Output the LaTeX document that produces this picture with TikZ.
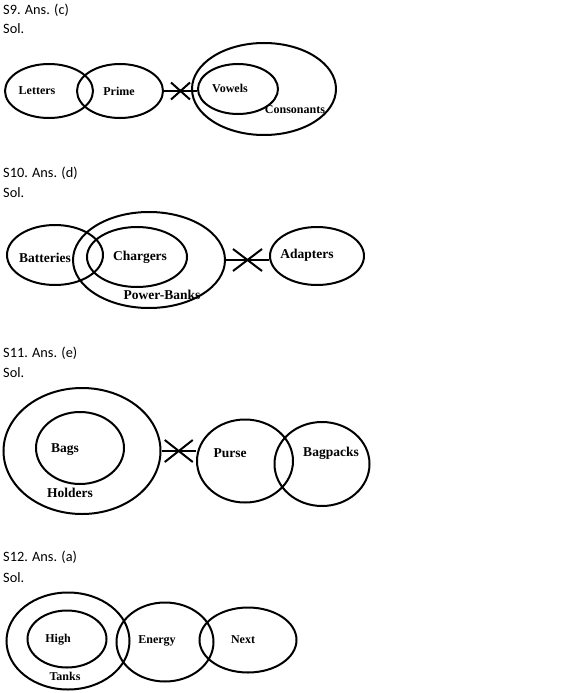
\documentclass[tikz,border=0pt]{standalone}
\usepackage{fontspec}
\setmainfont{Liberation Serif}
\newfontfamily\headfont{Carlito}
\usetikzlibrary{shapes.geometric, shapes.misc, calc}
\tikzstyle{set} = [ellipse, draw=black, line width=2pt, inner sep=0pt]
\tikzstyle{setlabel} = [font=\fontsize{12}{14}\selectfont\bfseries, inner sep=0pt]
\tikzstyle{heading} = [font=\headfont\fontsize{14.3}{16}\selectfont, anchor=base west, inner sep=0pt]
\tikzstyle{disjoint} = [cross out, draw=black, line width=2pt, inner sep=0pt]

\begin{document}
\begin{tikzpicture}[x=1pt, y=-1pt]
        \tikzstyle{biglabel} = [setlabel, font=\fontsize{13.5}{15}\selectfont\bfseries]
        \useasboundingbox (0,0) rectangle (567,693);

        % S9
        \node[heading] (head9) at (3,15) {S9. Ans. (c)};
        \node[heading] (sol9) at (3,34) {Sol.};
        \node[set, minimum width=88, minimum height=54] (letters) at (49,91) {};
        \node[set, minimum width=86, minimum height=54] (prime) at (120,91) {};
        \node[set, minimum width=144, minimum height=92] (consonants) at (264,89) {};
        \node[set, minimum width=80, minimum height=50] (vowels) at (238,89) {};
        \node[setlabel] (lettersLabel) at (37,91) {Letters};
        \node[setlabel] (primeLabel) at (119,91) {Prime};
        \node[setlabel] (vowelsLabel) at (230,88) {Vowels};
        \node[setlabel] (consonantsLabel) at (295,110) {Consonants};
        \draw[line width=2pt] (prime.east) -- (prime.east -| vowels.west);
        \node[disjoint, minimum width=17, minimum height=15] (cut9) at ($(prime.east)!0.5!(prime.east -| vowels.west)$) {};

        % S10
        \node[heading] (head10) at (3,177) {S10. Ans. (d)};
        \node[heading] (sol10) at (3,197) {Sol.};
        \node[set, minimum width=96, minimum height=60] (batteries) at (55,255) {};
        \node[set, minimum width=152, minimum height=96] (powerbanks) at (149,260) {};
        \node[set, minimum width=100, minimum height=60] (chargers) at (137,257) {};
        \node[set, minimum width=94, minimum height=58] (adapters) at (317,256) {};
        \node[biglabel] (batteriesLabel) at (45,258) {Batteries};
        \node[biglabel] (chargersLabel) at (140,257) {Chargers};
        \node[biglabel] (powerbanksLabel) at (162,295) {Power-Banks};
        \node[biglabel] (adaptersLabel) at (307,255) {Adapters};
        \draw[line width=2pt] (powerbanks.east) -- (powerbanks.east -| adapters.west);
        \node[disjoint, minimum width=27, minimum height=20] (cut10) at ($(powerbanks.east)!0.5!(powerbanks.east -| adapters.west)$) {};

        % S11
        \node[heading] (head11) at (3,357) {S11. Ans. (e)};
        \node[heading] (sol11) at (3,377) {Sol.};
        \node[set, minimum width=157, minimum height=126] (holders) at (82,451) {};
        \node[set, minimum width=88, minimum height=72] (bags) at (80,448) {};
        \node[set, minimum width=96, minimum height=83] (purse) at (245,461) {};
        \node[set, minimum width=95, minimum height=84] (bagpacks) at (322,464) {};
        \node[biglabel] (bagsLabel) at (65,450) {Bags};
        \node[biglabel] (holdersLabel) at (70,493) {Holders};
        \node[biglabel] (purseLabel) at (230,453) {Purse};
        \node[biglabel] (bagpacksLabel) at (331,453) {Bagpacks};
        \draw[line width=2pt] (holders.east) -- (holders.east -| purse.west);
        \node[disjoint, minimum width=26, minimum height=20] (cut11) at ($(holders.east)!0.5!(holders.east -| purse.west)$) {};

        % S12
        \node[heading] (head12) at (3,561) {S12. Ans. (a)};
        \node[heading] (sol12) at (3,582) {Sol.};
        \node[set, minimum width=123, minimum height=97] (tanks) at (68,641) {};
        \node[set, minimum width=79, minimum height=57] (high) at (67,639) {};
        \node[set, minimum width=97, minimum height=79] (energy) at (165,642) {};
        \node[set, minimum width=97, minimum height=65] (next) at (248,640) {};
        \node[setlabel] (highLabel) at (58,640) {High};
        \node[setlabel] (tanksLabel) at (65,676) {Tanks};
        \node[setlabel] (energyLabel) at (157,641) {Energy};
        \node[setlabel] (nextLabel) at (243,640) {Next};

\end{tikzpicture}
\end{document}
